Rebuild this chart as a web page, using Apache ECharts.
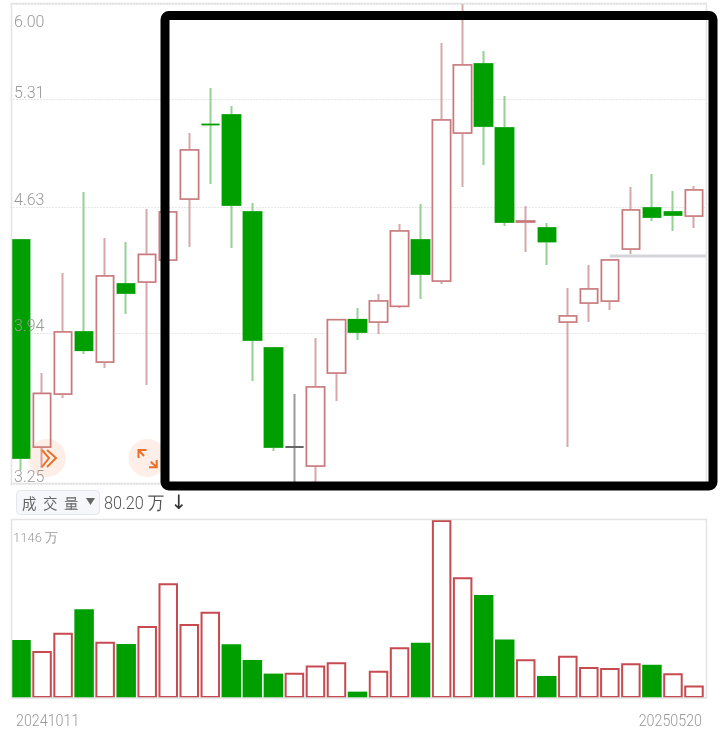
<!DOCTYPE html>
<html>
<head>
<meta charset="utf-8">
<style>html,body{margin:0;padding:0;background:#fff}#c{width:720px;height:740px}</style>
<script src="https://cdn.jsdelivr.net/npm/echarts@6/dist/echarts.min.js"></script>
</head>
<body>
<div id="c"></div>
<script>
var categories = ['20241011','d02','d03','d04','d05','d06','d07','d08','d09','d10','d11','d12','d13','d14','d15','d16','d17','d18','d19','d20','d21','d22','d23','d24','d25','d26','d27','d28','d29','d30','d31','d32','20250520'];
var opens  = [4.438,3.407,3.646,3.946,3.798,4.196,4.207,4.326,4.677,5.144,5.207,4.600,3.867,3.407,3.326,3.745,4.008,3.997,4.079,4.438,4.212,5.089,5.557,5.121,4.542,4.507,3.997,4.095,4.106,4.388,4.623,4.600,4.577];
var closes = [3.360,3.648,3.946,3.856,4.239,4.148,4.357,4.600,4.979,5.144,4.641,3.906,3.407,3.407,3.679,4.008,3.946,4.106,4.490,4.250,5.173,5.550,5.134,4.542,4.547,4.430,4.028,4.169,4.326,4.612,4.571,4.583,4.731];
var lows   = [3.309,3.317,3.627,3.837,3.769,4.038,3.688,4.326,4.399,4.767,4.393,3.707,3.390,3.250,3.250,3.613,3.906,3.936,4.069,4.116,4.196,4.749,4.884,4.518,4.371,4.299,3.407,3.997,4.059,4.360,4.547,4.490,4.507];
var highs  = [4.438,3.745,4.255,4.719,4.450,4.427,4.618,4.600,5.089,5.389,5.267,4.653,3.867,3.646,3.916,4.008,4.069,4.143,4.530,4.647,5.708,6.000,5.650,5.334,4.635,4.536,4.174,4.299,4.326,4.749,4.829,4.725,4.755];
var candleKinds = ['g','r','r','g','r','g','r','r','r','g','g','g','g','k','r','r','g','r','r','g','r','r','g','g','r','g','r','r','r','r','g','g','r'];
var volumes = [373,303,420,571,362,348,464,738,476,556,346,245,157,163,210,230,41,176,326,356,1146,777,663,376,249,142,272,200,193,223,214,159,80];
var volumeKinds = ['g','r','r','g','r','g','r','r','r','r','g','g','g','r','r','r','g','r','r','g','r','r','g','g','r','g','r','r','r','r','g','r','r'];
var priceTicks = [3.25,3.94,4.63,5.31,6.00];
var lastLineValue = 4.349;
var dateLabels = ['20241011','20250520'];
var volumeMaxLabel = '1146 万';
var currentVolume = '80.20 万';

var GREEN='#009f00', GREEN_W='#93d293', RED='#c9787c', RED_W='#d6a8aa', BLACK='#555555', BLACK_W='#9a9a9a';
var THIN='Roboto,"Liberation Sans",sans-serif', GREY='#999999';
var wickColor={g:GREEN_W,r:RED_W,k:BLACK_W}, bodyColor={g:GREEN,r:RED,k:BLACK}, fill={g:GREEN,r:'#ffffff',k:'#ffffff'};

var wicks=categories.map(function(_,i){
  var k=candleKinds[i], c=wickColor[k];
  return {value:[opens[i],closes[i],lows[i],highs[i]],
    itemStyle:{color:'#fff',color0:'#fff',borderColor:c,borderColor0:c,borderColorDoji:c}};
});
var bodies=categories.map(function(_,i){
  var k=candleKinds[i], c=bodyColor[k], f=fill[k];
  return {value:[opens[i],closes[i],Math.min(opens[i],closes[i]),Math.max(opens[i],closes[i])],
    itemStyle:{color:f,color0:f,borderColor:c,borderColor0:c,borderColorDoji:c}};
});
var volData=volumes.map(function(v,i){
  return volumeKinds[i]==='g'
    ? {value:v,itemStyle:{color:GREEN,borderWidth:0}}
    : {value:v,itemStyle:{color:'#fff',borderColor:'#c64a50',borderWidth:2}};
});
function txt(t,x,y,size,color,font,align,sx,weight){
  return {type:'text',z:60,silent:true,x:x,y:y,scaleX:sx||1,style:{text:t,x:0,y:0,fill:color,font:(weight||300)+' '+size+'px '+(font||THIN),textAlign:align||'left',textVerticalAlign:'middle'}};
}
function stroke(points,w){
  return {type:'polyline',z:61,silent:true,shape:{points:points},style:{stroke:'#e8702a',fill:null,lineWidth:w||2}};
}
var graphic=[
  {type:'rect',z:40,silent:true,shape:{x:11.5,y:3.5,width:695,height:480},style:{fill:null,stroke:'#e4e4e4',lineWidth:1.5}},
  {type:'rect',z:40,silent:true,shape:{x:11.5,y:519.5,width:695,height:178.5},style:{fill:null,stroke:'#e4e4e4',lineWidth:1.5}},
  {type:'circle',z:50,silent:true,shape:{cx:47,cy:458,r:19},style:{fill:'rgba(240,130,70,0.13)'}},
  {type:'circle',z:50,silent:true,shape:{cx:147.5,cy:458,r:19},style:{fill:'rgba(240,130,70,0.13)'}},
  stroke([[42,450],[49,458],[42,467]]),
  stroke([[47,450],[56,458],[47,467]]),
  stroke([[138.5,458],[138.5,450],[146.5,450]]),
  stroke([[138.5,450],[144,456]]),
  stroke([[156.7,460],[156.7,467.3],[149,467.3]]),
  stroke([[156.7,467.3],[150.7,461.7]]),
  {type:'rect',z:70,silent:true,shape:{x:165,y:15.5,width:548,height:470.5,r:4},style:{fill:null,stroke:'#000',lineWidth:9}},
  {type:'rect',z:60,silent:true,shape:{x:16.5,y:490.5,width:83,height:24,r:4},style:{fill:'#f5f7fa',stroke:'#e3e6ea',lineWidth:1}},
  txt('成  交  量',22,503,14.5,'#666666','"Noto Sans CJK SC"','left',1,400),
  {type:'polygon',z:60,silent:true,shape:{points:[[86,498],[95,498],[90.5,505]]},style:{fill:'#666666'}},
  txt(currentVolume,104,504,18,'#555555',THIN,'left',0.9),
  txt('↓',179,504,20,'#333333','"DejaVu Sans"','center',1,400),
  txt(volumeMaxLabel,13,539,13,GREY),
  txt(priceTicks[4].toFixed(2),14,22.5,16,GREY),
  txt(dateLabels[0],16,721.5,17,GREY,THIN,'left',0.84),
  txt(dateLabels[1],702,721.5,17,GREY,THIN,'right',0.84)
];
var option={
  animation:false,
  backgroundColor:'#fff',
  graphic:graphic,
  grid:[
    {left:10.5,top:4,width:694,height:480,show:false,outerBoundsMode:'none'},
    {left:10.5,top:520,width:694,height:178,show:false,outerBoundsMode:'none'}
  ],
  xAxis:[
    {type:'category',gridIndex:0,data:categories,axisLine:{show:false},axisTick:{show:false},axisLabel:{show:false},splitLine:{show:false}},
    {type:'category',gridIndex:1,data:categories,axisLine:{show:false},axisTick:{show:false},axisLabel:{show:false},splitLine:{show:false}}
  ],
  yAxis:[
    {type:'log',gridIndex:0,position:'left',min:3.25,max:6,
     axisLine:{show:false},
     axisTick:{show:false,customValues:priceTicks},
     axisLabel:{show:false},
     splitLine:{show:true,lineStyle:{color:'#cfcfcf',type:[1,2],width:1}}},
    {type:'value',gridIndex:1,min:0,max:1146,axisLine:{show:false},axisTick:{show:false},axisLabel:{show:false},splitLine:{show:false}},
    {type:'log',gridIndex:0,position:'left',min:3.25,max:6,z:5,
     axisLine:{show:false},axisTick:{show:false},splitLine:{show:false},
     axisLabel:{inside:true,margin:3.5,customValues:priceTicks.slice(0,4),color:GREY,fontSize:16,lineHeight:12,fontWeight:300,fontFamily:THIN,verticalAlign:'bottom',
       formatter:function(v){return Number(v).toFixed(2);}}}
  ],
  series:[
    {type:'candlestick',name:'wick',xAxisIndex:0,yAxisIndex:0,barWidth:18,data:wicks,itemStyle:{borderWidth:2}},
    {type:'candlestick',name:'body',xAxisIndex:0,yAxisIndex:0,barWidth:18,data:bodies,itemStyle:{borderWidth:1.5}},
    {type:'bar',name:'volume',xAxisIndex:1,yAxisIndex:1,barWidth:19.5,data:volData}
  ]
};
var chart=echarts.init(document.getElementById('c'),null,{renderer:'canvas'});
chart.setOption(option);
var lineStart=chart.convertToPixel({xAxisIndex:0,yAxisIndex:0},[28,lastLineValue]);
chart.setOption({graphic:graphic.concat([
  {type:'line',z:30,silent:true,shape:{x1:lineStart[0],y1:lineStart[1],x2:706,y2:lineStart[1]},style:{stroke:'#d3d5d9',lineWidth:3}}
])});
</script>
</body>
</html>
